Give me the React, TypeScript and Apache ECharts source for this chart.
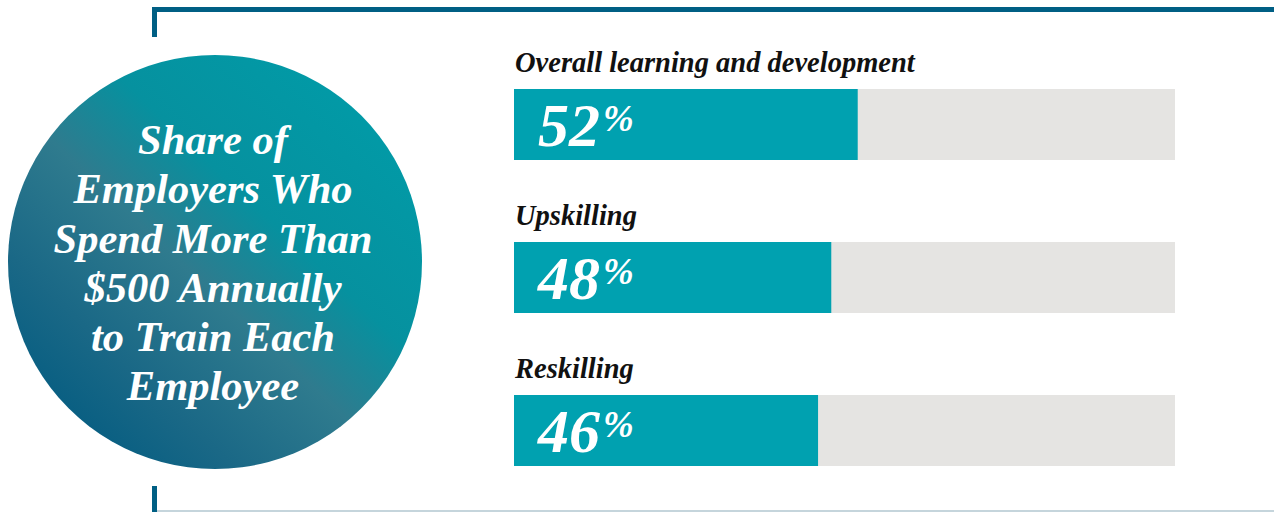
import React, { useEffect, useRef } from "react";
import * as echarts from "echarts";

const categories = ["Overall learning and development", "Upskilling", "Reskilling"];
const shares = [52, 48, 46];
const titleLines = [
  "Share of",
  "Employers Who",
  "Spend More Than",
  "$500 Annually",
  "to Train Each",
  "Employee",
];

const SERIF = "'Liberation Serif', 'DejaVu Serif', serif";

export default function App() {
  const ref = useRef<HTMLDivElement>(null);
  useEffect(() => {
    document.body.style.margin = "0";
    if (!ref.current) return;
    const chart = echarts.init(ref.current, null, { renderer: "svg" });
    chart.setOption({
      animation: false,
      backgroundColor: "#ffffff",
      title: {
        text: titleLines.join("\n"),
        left: 208,
        top: 110,
        textAlign: "center",
        textStyle: {
          color: "#ffffff",
          fontFamily: SERIF,
          fontStyle: "italic",
          fontWeight: "bold",
          fontSize: 42.5,
          lineHeight: 49.2,
        },
        z: 10,
      },
      graphic: [
        {
          type: "circle",
          shape: { cx: 215, cy: 262, r: 207 },
          z: 1,
          style: {
            fill: {
              type: "linear",
              x: 0.95,
              y: 0.05,
              x2: 0.1,
              y2: 0.95,
              colorStops: [
                { offset: 0, color: "#009da9" },
                { offset: 0.38, color: "#06919f" },
                { offset: 0.56, color: "#2f7b8e" },
                { offset: 0.78, color: "#1a6886" },
                { offset: 1, color: "#005a80" },
              ],
            },
          },
        },
        { type: "rect", shape: { x: 152, y: 7, width: 1122, height: 5 }, style: { fill: "#005f84" }, silent: true },
        { type: "rect", shape: { x: 152, y: 7, width: 5, height: 30 }, style: { fill: "#005f84" }, silent: true },
        { type: "rect", shape: { x: 152, y: 486, width: 5, height: 26 }, style: { fill: "#005f84" }, silent: true },
        { type: "rect", shape: { x: 157, y: 510, width: 1117, height: 2 }, style: { fill: "#c5d5dc" }, silent: true },
      ],
      grid: { left: 514, width: 661, top: 48, height: 459 },
      xAxis: { type: "value", min: 0, max: 100, show: false },
      yAxis: {
        type: "category",
        data: categories,
        inverse: true,
        axisLine: { show: false },
        axisTick: { show: false },
        splitLine: { show: false },
        axisLabel: {
          inside: true,
          margin: 1,
          verticalAlign: "bottom",
          padding: [0, 0, 48, 0],
          color: "#111111",
          fontFamily: SERIF,
          fontStyle: "italic",
          fontWeight: "bold",
          fontSize: 28.5,
        },
        z: 5,
      },
      series: [
        {
          type: "bar",
          data: shares,
          barWidth: 71,
          showBackground: true,
          backgroundStyle: { color: "#e5e4e2" },
          itemStyle: { color: "#00a1b0" },
          label: {
            show: true,
            position: "insideLeft",
            distance: 24,
            formatter: "{a|{c}}{b|%}",
            rich: {
              a: {
                color: "#ffffff",
                fontFamily: SERIF,
                fontStyle: "italic",
                fontWeight: "bold",
                fontSize: 62,
              },
              b: {
                color: "#ffffff",
                fontFamily: SERIF,
                fontStyle: "italic",
                fontWeight: "bold",
                fontSize: 37,
                padding: [0, 0, 13, 3],
              },
            },
          },
        },
      ],
    });
    return () => chart.dispose();
  }, []);
  return <div ref={ref} style={{ width: 1274, height: 512 }} />;
}
